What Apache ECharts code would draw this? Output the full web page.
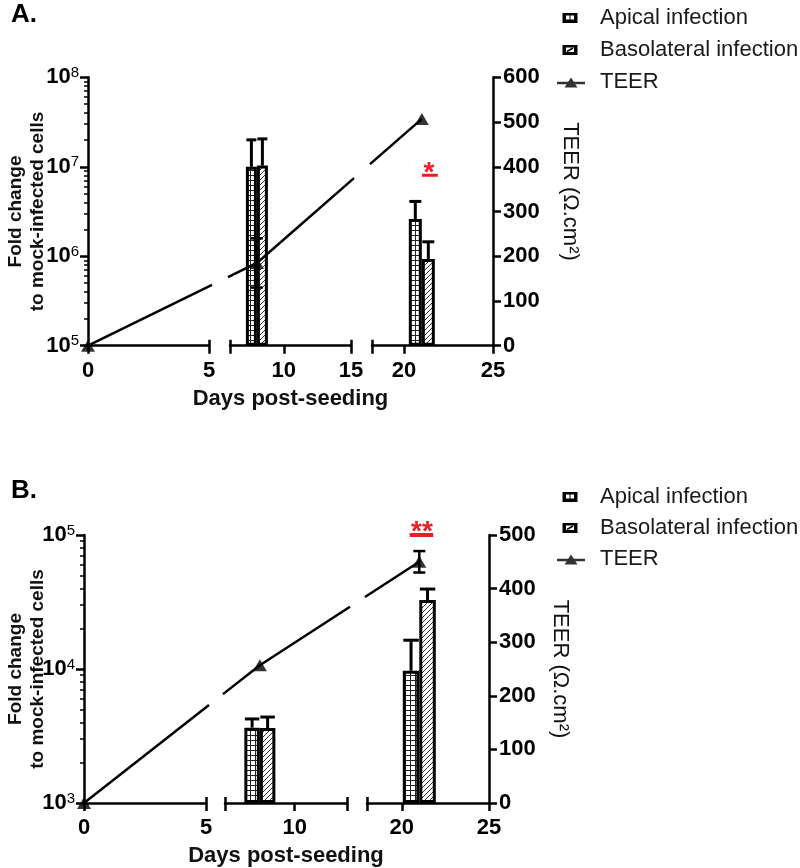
<!DOCTYPE html>
<html>
<head>
<meta charset="utf-8">
<script src="https://cdn.jsdelivr.net/npm/echarts@6/dist/echarts.min.js"></script>
<style>html,body{margin:0;padding:0;background:#fff}#c{width:800px;height:868px}</style>
</head>
<body>
<div id="c"></div>
<script>
// ---------------- data ----------------
const seriesNames = ['Apical infection', 'Basolateral infection', 'TEER'];
const xTitle = 'Days post-seeding';
const yTitleLeft = 'Fold change\nto mock-infected cells';
const yTitleRight = 'TEER (Ω.cm²)';

// Panel A
const barDaysA = [8, 21];
const apicalA = [1.0e7, 2.6e6];
const apicalHiA = [2.0e7, 4.1e6];
const basoA = [1.03e7, 9.3e5];
const basoHiA = [2.05e7, 1.45e6];
const teerDaysA = [0, 8, 21];
const teerA = [0, 185, 507];
const teerSdA = [0, 55, 0];
const segmentsA = [[0, 5], [6, 15], [18.2, 25]];
const xLabelsA = [[0, 5], [10, 15], [20, 25]];
const decadesA = [5, 6, 7, 8];
const teerTicksA = [0, 100, 200, 300, 400, 500, 600];
const sigA = '*';

// Panel B
const barDaysB = [8, 21];
const apicalB = [3650, 9700];
const apicalHiB = [4240, 16400];
const basoB = [3630, 32700];
const basoHiB = [4380, 39500];
const teerDaysB = [0, 8, 21];
const teerB = [0, 257, 450];
const teerSdB = [0, 0, 20];
const segmentsB = [[0, 5], [6, 13], [18, 25]];
const xLabelsB = [[0, 5], [10], [20, 25]];
const decadesB = [3, 4, 5];
const teerTicksB = [0, 100, 200, 300, 400, 500];
const sigB = '**';

// ---------------- layout / style ----------------
const FONT = '"Liberation Sans", Arial, Helvetica, sans-serif';
const RED = '#ee1c24';

const layoutA = {
  label: 'A.', labelTop: 2, legendTop: 7, legendGap: 10,
  top: 77.3, height: 268.4, left: [88, 230, 372], width: [121, 121, 121],
  barWidth: [0, 11, 13], leftNameGap: 39, rightNameGap: 66, rightNameShift: 40,
  sigText: { x: 21.4, y: 400, size: 28 }, sigLine: { x1: 21.0, x2: 21.9, y: 381, width: 3 }
};
const layoutB = {
  label: 'B.', labelTop: 478, legendTop: 486, legendGap: 9,
  top: 535, height: 268, left: [84, 225, 367], width: [122, 122, 122],
  barWidth: [0, 15.5, 16.5], leftNameGap: 35, rightNameGap: 60, rightNameShift: 0,
  sigText: { x: 21.15, y: 519, size: 28 }, sigLine: { x1: 20.45, x2: 21.8, y: 500, width: 4 }
};

const panels = [
  { barDays: barDaysA, apical: apicalA, apicalHi: apicalHiA, baso: basoA, basoHi: basoHiA,
    teerDays: teerDaysA, teer: teerA, teerSd: teerSdA, segments: segmentsA, xLabels: xLabelsA,
    decades: decadesA, teerTicks: teerTicksA, sig: sigA, L: layoutA },
  { barDays: barDaysB, apical: apicalB, apicalHi: apicalHiB, baso: basoB, basoHi: basoHiB,
    teerDays: teerDaysB, teer: teerB, teerSd: teerSdB, segments: segmentsB, xLabels: xLabelsB,
    decades: decadesB, teerTicks: teerTicksB, sig: sigB, L: layoutB }
];

function makeGridPattern() {
  const c = document.createElement('canvas'); c.width = 5; c.height = 5;
  const x = c.getContext('2d');
  x.fillStyle = '#fff'; x.fillRect(0, 0, 5, 5);
  x.fillStyle = '#222'; x.fillRect(0, 0, 5, 1); x.fillRect(0, 0, 1, 5);
  return c;
}
function makeDiagPattern() {
  const c = document.createElement('canvas'); c.width = 5; c.height = 5;
  const x = c.getContext('2d');
  x.fillStyle = '#fff'; x.fillRect(0, 0, 5, 5);
  x.strokeStyle = '#333'; x.lineWidth = 1;
  x.beginPath();
  for (let k = -5; k <= 5; k += 5) { x.moveTo(k - 1, 6); x.lineTo(k + 6, -1); }
  x.stroke();
  return c;
}
const gridPat = makeGridPattern();
const diagPat = makeDiagPattern();

const svg = (w, h, body) => 'image://data:image/svg+xml;charset=utf-8,' + encodeURIComponent(
  '<svg xmlns="http://www.w3.org/2000/svg" width="' + w + '" height="' + h + '" viewBox="0 0 ' + w + ' ' + h + '">' + body + '</svg>');
const legendIcons = [
  svg(39, 14, '<rect x="6.5" y="2" width="15" height="10" fill="black"/><rect x="10" y="4.5" width="3.5" height="4" fill="white"/><rect x="14.5" y="4.5" width="3.5" height="4" fill="white"/>'),
  svg(39, 14, '<rect x="6.5" y="2" width="15" height="10" fill="black"/><rect x="10" y="4.5" width="8" height="4.5" fill="white"/><line x1="11" y1="8.5" x2="17" y2="5" stroke="black" stroke-width="1.5"/>'),
  svg(39, 14, '<line x1="1" y1="8" x2="29" y2="8" stroke="black" stroke-width="2.5"/><polygon points="8.5,12.5 15,2.5 21.5,12.5" fill="black"/>')
];

function barErr(offset, capW) {
  return function (params, api) {
    const x = api.value(0), y = api.value(1), hi = api.value(2);
    const c = api.coord([x, y]), h = api.coord([x, hi]);
    const cx = c[0] + offset;
    return { type: 'group', children: [
      { type: 'line', shape: { x1: cx, y1: c[1], x2: cx, y2: h[1] }, style: { stroke: '#000', lineWidth: 3 } },
      { type: 'line', shape: { x1: cx - capW / 2, y1: h[1], x2: cx + capW / 2, y2: h[1] }, style: { stroke: '#000', lineWidth: 3 } }
    ] };
  };
}
function teerErr(capW) {
  return function (params, api) {
    const x = api.value(0), lo = api.value(1), hi = api.value(2);
    const a = api.coord([x, lo]), b = api.coord([x, hi]);
    return { type: 'group', children: [
      { type: 'line', shape: { x1: a[0], y1: a[1], x2: b[0], y2: b[1] }, style: { stroke: '#000', lineWidth: 2.5 } },
      { type: 'line', shape: { x1: a[0] - capW / 2, y1: a[1], x2: a[0] + capW / 2, y2: a[1] }, style: { stroke: '#000', lineWidth: 2.5 } },
      { type: 'line', shape: { x1: b[0] - capW / 2, y1: b[1], x2: b[0] + capW / 2, y2: b[1] }, style: { stroke: '#000', lineWidth: 2.5 } }
    ] };
  };
}

const axisLineStyle = { color: '#000', width: 2.5 };
const option = {
  animation: false, backgroundColor: '#fff',
  title: [], legend: [], grid: [], xAxis: [], yAxis: [], series: []
};

panels.forEach((P, p) => {
  const L = P.L;
  const dec0 = P.decades[0], nDec = P.decades.length - 1;
  const last = P.segments.length - 1;

  option.title.push({ text: L.label, left: 11, top: L.labelTop, padding: 0,
    textStyle: { fontSize: 26, fontWeight: 'bold', color: '#000', fontFamily: FONT } });

  option.legend.push({ left: 556, top: L.legendTop, orient: 'vertical', itemWidth: 39, itemHeight: 14,
    itemGap: L.legendGap, selectedMode: false, padding: 0,
    textStyle: { fontSize: 22, color: '#1a1a1a', fontFamily: FONT, lineHeight: 22 },
    data: seriesNames.map((n, i) => ({ name: n, icon: legendIcons[i] })) });

  P.segments.forEach((seg, s) => {
    const g = p * 3 + s;
    option.grid.push({ left: L.left[s], top: L.top, width: L.width[s], height: L.height,
      containLabel: false, outerBoundsMode: 'none' });

    const caps = [];
    if (s > 0) caps.push(seg[0]);
    if (s < last) caps.push(seg[1]);
    const down = Array.from(new Set(P.xLabels[s].concat(caps))).sort((a, b) => a - b);

    option.xAxis.push({ type: 'value', gridIndex: g, min: seg[0], max: seg[1], position: 'bottom',
      axisLine: { show: true, onZero: false, lineStyle: axisLineStyle },
      axisTick: { show: true, customValues: down, length: 8, lineStyle: axisLineStyle },
      axisLabel: { show: true, customValues: P.xLabels[s], margin: 14, fontSize: 22, fontWeight: 'bold',
        color: '#000', fontFamily: FONT },
      splitLine: { show: false },
      name: s === 1 ? xTitle : '', nameLocation: 'middle', nameGap: 42, nameMoveOverlap: false,
      nameTextStyle: { fontSize: 22, fontWeight: 'bold', color: '#111', fontFamily: FONT } });
    option.xAxis.push({ type: 'value', gridIndex: g, min: seg[0], max: seg[1], position: 'bottom',
      axisLine: { show: false, onZero: false },
      axisTick: { show: true, inside: true, customValues: caps, length: 6, lineStyle: axisLineStyle },
      axisLabel: { show: false }, splitLine: { show: false } });

    const majors = P.decades.map((d, i) => i);
    const minors = [];
    for (let i = 0; i < nDec; i++) for (let k = 2; k <= 9; k++) minors.push(i + Math.log10(k));

    option.yAxis.push({ type: 'value', gridIndex: g, min: 0, max: nDec, position: 'left', show: s === 0,
      axisLine: { show: true, lineStyle: axisLineStyle },
      axisTick: { show: true, customValues: majors, length: 8, lineStyle: axisLineStyle },
      axisLabel: { show: true, customValues: majors, margin: 9,
        formatter: v => '{b|10}{s|' + (Math.round(v) + dec0) + '}',
        rich: {
          b: { fontSize: 22, fontWeight: 'bold', color: '#000', fontFamily: FONT, lineHeight: 24 },
          s: { fontSize: 15, fontWeight: 'normal', color: '#000', fontFamily: FONT, lineHeight: 14, verticalAlign: 'top' }
        } },
      splitLine: { show: false },
      name: s === 0 ? yTitleLeft : '', nameLocation: 'middle', nameGap: L.leftNameGap, nameRotate: 90,
      nameMoveOverlap: false,
      nameTextStyle: { fontSize: 19, fontWeight: 'bold', lineHeight: 22, color: '#111', fontFamily: FONT, align: 'center' } });
    option.yAxis.push({ type: 'value', gridIndex: g, min: 0, max: nDec, position: 'left', show: s === 0,
      axisLine: { show: false },
      axisTick: { show: true, customValues: minors, length: 4, lineStyle: { color: '#000', width: 1.5 } },
      axisLabel: { show: false }, splitLine: { show: false } });
    const tMax = P.teerTicks[P.teerTicks.length - 1];
    option.yAxis.push({ type: 'value', gridIndex: g, min: 0, max: tMax, position: 'right', show: s === last,
      axisLine: { show: true, lineStyle: axisLineStyle },
      axisTick: { show: true, customValues: P.teerTicks, length: 8, lineStyle: axisLineStyle },
      axisLabel: { show: true, customValues: P.teerTicks, margin: 10, fontSize: 22, fontWeight: 'bold',
        color: '#000', fontFamily: FONT },
      splitLine: { show: false },
      name: s === last ? yTitleRight : '', nameLocation: 'middle', nameGap: L.rightNameGap, nameRotate: -90,
      nameMoveOverlap: false,
      nameTextStyle: { fontSize: 22, color: '#111', fontFamily: FONT, padding: [0, L.rightNameShift, 0, 0] } });

    const xi = 2 * g, yF = 3 * g, yT = 3 * g + 2;
    const inSeg = d => d >= seg[0] && d <= seg[1];
    const bw = L.barWidth[s];
    const barIdx = P.barDays.map((d, i) => i).filter(i => inSeg(P.barDays[i]));
    if (barIdx.length) {
      [[seriesNames[0], P.apical, P.apicalHi, gridPat, -1],
       [seriesNames[1], P.baso, P.basoHi, diagPat, 1]].forEach(([name, vals, his, pat, side]) => {
        option.series.push({ type: 'bar', name, xAxisIndex: xi, yAxisIndex: yF, barWidth: bw, barGap: '0%',
          data: barIdx.map(i => [P.barDays[i], Math.log10(vals[i]) - dec0]),
          itemStyle: { color: { image: pat, repeat: 'repeat' }, borderColor: '#000', borderWidth: 3 },
          z: 2, silent: true });
        option.series.push({ type: 'custom', name: name + ' SD', xAxisIndex: xi, yAxisIndex: yF,
          data: barIdx.map(i => [P.barDays[i], Math.log10(vals[i]) - dec0, Math.log10(his[i]) - dec0]),
          renderItem: barErr(side * bw / 2, bw - 1), z: 3, silent: true });
      });
    }
    const tIdx = P.teerDays.map((d, i) => i).filter(i => inSeg(P.teerDays[i]));
    if (tIdx.length) {
      option.series.push({ type: 'scatter', name: seriesNames[2], xAxisIndex: xi, yAxisIndex: yT,
        symbol: 'triangle', symbolSize: [14, 12], clip: false, itemStyle: { color: '#000' },
        data: tIdx.map(i => [P.teerDays[i], P.teer[i]]), z: 10, silent: true });
      const sdIdx = tIdx.filter(i => P.teerSd[i] > 0);
      if (sdIdx.length) {
        option.series.push({ type: 'custom', name: 'TEER SD', xAxisIndex: xi, yAxisIndex: yT,
          data: sdIdx.map(i => [P.teerDays[i], P.teer[i] - P.teerSd[i], P.teer[i] + P.teerSd[i]]),
          renderItem: teerErr(12), z: 9, silent: true });
      }
    }
  });
});

const chart = echarts.init(document.getElementById('c'), null, { renderer: 'canvas' });
chart.setOption(option);

// TEER connecting line (broken at axis breaks) and significance marks, via the axes' own scales
const graphics = [];
panels.forEach((P, p) => {
  const L = P.L;
  const pts = P.teerDays.map((d, i) => {
    const s = P.segments.findIndex(seg => d >= seg[0] && d <= seg[1]);
    const g = p * 3 + s;
    return chart.convertToPixel({ xAxisIndex: 2 * g, yAxisIndex: 3 * g + 2 }, [d, P.teer[i]]);
  });
  const intervals = P.segments.map((seg, s) => [L.left[s] - 2, L.left[s] + L.width[s] + 3]);
  for (let k = 0; k + 1 < pts.length; k++) {
    const a = pts[k], b = pts[k + 1];
    const yAt = x => a[1] + (b[1] - a[1]) * (x - a[0]) / (b[0] - a[0]);
    intervals.forEach(([lo, hi]) => {
      const x1 = Math.max(lo, a[0]), x2 = Math.min(hi, b[0]);
      if (x2 <= x1) return;
      graphics.push({ type: 'line', z: 5, silent: true,
        shape: { x1, y1: yAt(x1), x2, y2: yAt(x2) }, style: { stroke: '#000', lineWidth: 2.5 } });
    });
  }
  const g3 = p * 3 + 2;
  const finder = { xAxisIndex: 2 * g3, yAxisIndex: 3 * g3 + 2 };
  const sp = chart.convertToPixel(finder, [L.sigText.x, L.sigText.y]);
  graphics.push({ type: 'text', z: 6, silent: true, x: sp[0], y: sp[1] + 0.25 * L.sigText.size,
    style: { text: P.sig, fill: RED, font: 'bold ' + L.sigText.size + 'px ' + FONT,
      textAlign: 'center', textVerticalAlign: 'middle', align: 'center', verticalAlign: 'middle' } });
  const l1 = chart.convertToPixel(finder, [L.sigLine.x1, L.sigLine.y]);
  const l2 = chart.convertToPixel(finder, [L.sigLine.x2, L.sigLine.y]);
  graphics.push({ type: 'line', z: 6, silent: true,
    shape: { x1: l1[0], y1: l1[1], x2: l2[0], y2: l2[1] }, style: { stroke: RED, lineWidth: L.sigLine.width } });
});
chart.setOption({ graphic: graphics });
</script>
</body>
</html>
